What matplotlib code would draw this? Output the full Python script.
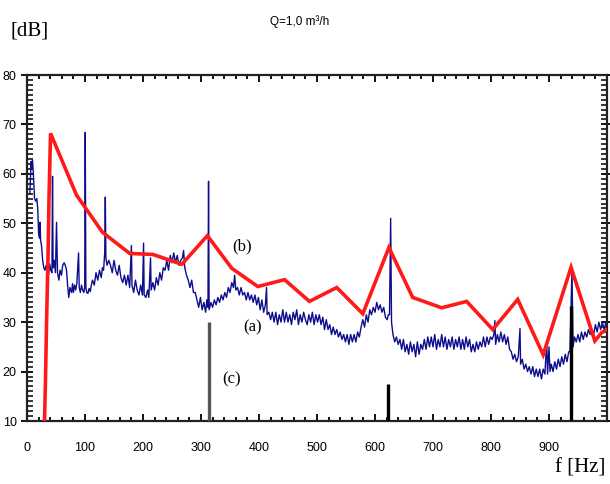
import numpy as np
import matplotlib
matplotlib.use("Agg")
import matplotlib.pyplot as plt
from matplotlib.ticker import MultipleLocator

freq_a = [5, 7, 8, 9.5, 11, 13, 15, 17, 18.5, 20, 21.6, 22.5, 23.5, 25, 27, 29, 31, 33, 35, 37,
          39, 41, 43, 44, 45, 47, 49, 50.9, 52.6, 55, 57, 59.5, 61.5, 64, 66, 68.2, 70, 72, 74, 76.8,
          78.5, 80, 82, 84, 86, 88.9, 90, 92, 94, 96, 98, 99.5, 100.4, 101.5, 103, 105, 107, 109, 111, 113,
          116, 119, 122, 125, 128, 130, 132, 134, 135, 136, 138, 141, 144, 147, 150, 153, 156, 159, 162, 165,
          168, 171, 174, 177, 180, 181, 184, 187, 190, 193, 196, 199, 201, 202, 205, 208, 210, 213, 214, 217,
          220, 223, 226, 229, 232, 235, 238, 241, 244, 247, 250, 253, 256, 259, 262, 265, 268, 270, 272, 275,
          278, 281, 284, 287, 290, 293, 296, 299, 302, 305, 308, 310, 312, 313, 314, 317, 320, 323, 326, 329,
          332, 335, 338, 341, 344, 347, 350, 353, 356, 358, 360, 363, 366, 369, 372, 375, 378, 381, 384, 387,
          390, 393, 396, 399, 402, 405, 408, 411, 413, 414, 417, 420, 423, 426, 429, 432, 435, 438, 441, 444,
          447, 450, 453, 456, 459, 462, 465, 468, 471, 474, 477, 480, 483, 486, 489, 492, 495, 498, 501, 504,
          507, 510, 513, 516, 519, 522, 525, 528, 531, 534, 537, 540, 543, 546, 549, 552, 555, 558, 561, 564,
          567, 570, 573, 576, 579, 582, 585, 588, 591, 594, 597, 600, 603, 606, 609, 612, 615, 618, 621, 623,
          625, 627, 628.5, 631, 634, 637, 640, 643, 646, 649, 652, 655, 658, 661, 664, 667, 670, 673, 676, 679,
          682, 685, 688, 691, 694, 697, 700, 703, 706, 709, 712, 715, 718, 721, 724, 727, 730, 733, 736, 739,
          742, 745, 748, 751, 754, 757, 760, 763, 766, 769, 772, 775, 778, 781, 784, 787, 790, 793, 796, 799,
          802, 805, 806.7, 808, 811, 814, 817, 820, 823, 826, 829, 832, 835, 838, 841, 844, 847, 850, 851, 854,
          857, 860, 863, 866, 869, 872, 875, 878, 881, 884, 887, 890, 893, 896, 897.5, 900, 901.7, 904, 907, 910,
          913, 916, 919, 922, 925, 928, 931, 934, 936, 939.6, 941.5, 944, 947, 950, 953, 956, 959, 962, 965, 968,
          971, 974, 977, 980, 983, 986, 989, 992, 995, 998]
level_a = [56, 62.5, 61, 62.8, 60, 55, 54.5, 55, 53, 48, 47, 50.2, 46.5, 45.5, 42.5, 41, 40.5, 41.5, 40, 39.5,
           41.8, 40.5, 40, 59.5, 41, 42.5, 40, 50.2, 40, 38.5, 40.5, 39.5, 41.5, 42, 41.5, 40.5, 37.5, 35, 37, 36,
           37.8, 36, 37.5, 36.5, 38, 44, 37, 36, 37.5, 36.5, 36, 37, 68.4, 37, 36, 35.8, 36.8, 36.2, 37.5, 38.5,
           37.5, 40, 38.5, 40.5, 39, 41, 40.5, 44, 55.3, 43, 41.5, 42.5, 41.5, 40, 42.5, 40.5, 39.5, 41.5, 39, 38,
           39.5, 37.5, 39.5, 37, 45.5, 37.5, 36, 38.5, 36.5, 35.5, 37.5, 35.5, 46, 35.5, 35, 36.5, 35, 43, 36.5, 38,
           36.5, 39, 37.5, 40, 38.5, 41, 40.5, 42.5, 40.5, 43.5, 42, 44, 42, 43.5, 41.5, 42.5, 43, 44.5, 41, 39.5,
           38.5, 37, 38.5, 36, 36, 34.5, 33, 35, 32.5, 34, 32, 34.5, 33, 58.5, 32.5, 34, 33, 34.5, 33.5, 35,
           34, 35.5, 34.5, 36, 35, 37, 36, 38, 37, 39.5, 36.5, 37, 35.5, 37, 35.5, 36, 34.5, 36, 34.5, 35.5,
           34, 35.5, 33.5, 35, 32.5, 34.5, 32, 33.5, 37, 31.5, 32, 30.5, 32, 30, 32, 29.5, 31.5, 30, 32.5, 30,
           32, 30, 31.5, 29.5, 32, 30.5, 32.5, 29.5, 31.5, 30, 32, 30.5, 29.5, 31.5, 30, 32, 29.5, 31.5, 30, 31.5,
           29.5, 31, 28.5, 30.5, 28.5, 29.5, 27.5, 29, 27.5, 28.5, 27, 28, 26.5, 27.5, 26, 27.5, 25.5, 27.5, 26, 27.5,
           26, 28, 27, 29, 30.5, 29, 31.5, 30, 32.5, 31.5, 33, 32, 34, 32.5, 33.5, 32, 33, 31, 30.5, 31.5,
           31.5, 51, 30, 27.5, 26, 27, 25.5, 26.5, 24.5, 26.5, 24, 25.5, 23.5, 26, 24, 25.5, 23, 26, 23.5, 25.5,
           24.5, 26.5, 24.5, 27, 25, 27, 25, 27.5, 24.5, 26.5, 25, 27.5, 25, 27, 24.5, 26.5, 25, 27, 24.5, 26.5,
           25, 27, 24.5, 26.5, 24.5, 27, 25, 26.5, 24, 25.5, 24, 26, 24.5, 26, 25, 27, 25, 27, 25.5, 27,
           26.5, 27.5, 30.3, 25.5, 27.5, 26, 28, 26, 27.5, 25.5, 27, 24.5, 24, 22.5, 23.5, 22, 23, 28.7, 21.5, 22.5,
           20.5, 21.5, 20, 21, 19.5, 21, 19, 20.5, 19, 20.5, 18.5, 20.5, 19.5, 26.3, 19.5, 25, 20, 21.5, 20, 22,
           20.5, 22.5, 21, 23, 21.5, 23.5, 22, 24, 24, 40.5, 25, 27, 26, 27.5, 26, 28, 26.5, 28, 27, 28.5,
           27.5, 28.5, 27.5, 29.5, 28, 30, 28.5, 30, 28.5, 30]

# (b) red envelope
freq_b = [30.2, 31.9, 33.6, 36.2, 38, 40.6, 85.4, 130, 177, 217, 267, 311, 353, 398, 444, 487, 534,
          579, 624, 665, 715, 758, 803, 846, 890, 938, 979, 991, 1000]
level_b = [10, 18.5, 29.3, 43.1, 55.3, 68.2, 55.7, 48.2, 43.9, 43.7, 41.7, 47.5, 40.9, 37.2, 38.6, 34.2,
           37.0, 31.7, 45.1, 35.0, 32.9, 34.2, 28.5, 34.6, 23.4, 41.1, 26.2, 27.9, 28.5]

# (c) discrete lines
freq_c = [314, 622, 938]
level_c = [30, 17.4, 33.2]
color_c = ['#555555', 'black', 'black']

fig = plt.figure(figsize=(6.1, 4.84), dpi=100)
ax = fig.add_axes([27 / 610, 63 / 484, 580 / 610, 346 / 484])

ax.plot(freq_a, level_a, color='#0d0d8c', lw=1.0, zorder=2)
ax.plot(freq_b, level_b, color='#ff1a1a', lw=2.6, zorder=3, solid_joinstyle='miter')
for f, l, c in zip(freq_c, level_c, color_c):
    ax.vlines(f, 10, l, color=c, lw=2.4, zorder=4)

ax.set_xlim(0, 1000)
ax.set_ylim(10, 80)
ax.set_xticks(np.arange(0, 1000, 100))
ax.xaxis.set_minor_locator(MultipleLocator(20))
ax.set_yticks(np.arange(10, 90, 10))
ax.yaxis.set_minor_locator(MultipleLocator(1))

ax.tick_params(axis='x', which='both', direction='in', top=True, bottom=True, pad=15,
               labelsize=9, width=1.3)
ax.tick_params(axis='x', which='major', length=5)
ax.tick_params(axis='x', which='minor', length=3)
ax.tick_params(axis='y', which='major', direction='inout', length=9, left=True, right=True,
               labelsize=9, width=1.3, pad=3)
ax.tick_params(axis='y', which='minor', direction='in', length=4, left=True, right=True, width=1.1)
for lab in ax.get_xticklabels() + ax.get_yticklabels():
    lab.set_family('Liberation Sans')
for s in ax.spines.values():
    s.set_linewidth(1.6)
    s.set_color('#222222')

serif = 'Liberation Serif'
ax.text(370, 45.3, '(b)', family=serif, fontsize=12, ha='center', va='center')
ax.text(389, 28.9, '(a)', family=serif, fontsize=12, ha='center', va='center')
ax.text(353, 18.5, '(c)', family=serif, fontsize=12, ha='center', va='center')

fig.text(10 / 610, 1 - 31 / 484, '[dB]', family=serif, fontsize=15, ha='left', va='center')
fig.text(300 / 610, 1 - 22 / 484, 'Q=1,0 m³/h', family='Liberation Sans', fontsize=8.5,
         ha='center', va='center')
fig.text(605 / 610, 1 - 468 / 484, 'f [Hz]', family=serif, fontsize=15, ha='right', va='center')

fig.savefig('out.png', dpi=100)
